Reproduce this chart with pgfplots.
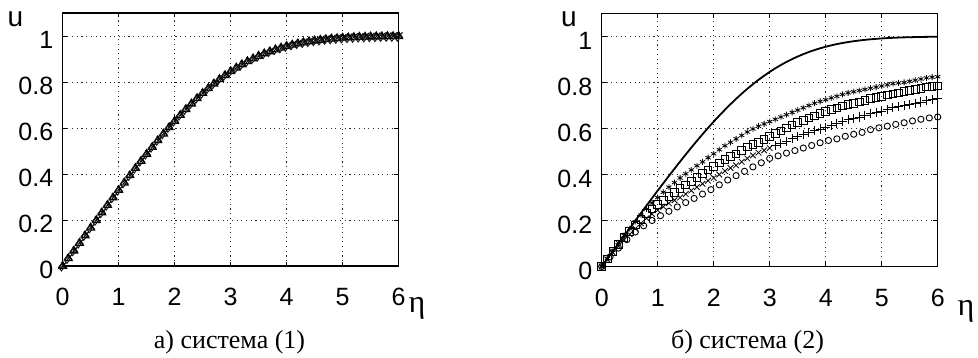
\documentclass[border=0pt]{standalone}
\usepackage{fontspec}
\setmainfont{Liberation Serif}
\newfontfamily\sansf{Liberation Sans}
\usepackage{pgfplots}
\usepackage{pgfplotstable}
\pgfplotsset{compat=1.18}

% left panel / solid line: u(eta)
\pgfplotstableread{
eta u
0.0 0
0.1 0.0332
0.2 0.0664
0.3 0.0996
0.4 0.1328
0.5 0.1659
0.6 0.1989
0.7 0.2319
0.8 0.2647
0.9 0.2974
1.0 0.3298
1.1 0.3619
1.2 0.3938
1.3 0.4252
1.4 0.4563
1.5 0.4868
1.6 0.5168
1.7 0.5461
1.8 0.5748
1.9 0.6027
2.0 0.6298
2.1 0.6560
2.2 0.6813
2.3 0.7056
2.4 0.7290
2.5 0.7513
2.6 0.7725
2.7 0.7925
2.8 0.8115
2.9 0.8293
3.0 0.8461
3.1 0.8617
3.2 0.8761
3.3 0.8895
3.4 0.9018
3.5 0.9130
3.6 0.9233
3.7 0.9326
3.8 0.9411
3.9 0.9487
4.0 0.9555
4.1 0.9616
4.2 0.9670
4.3 0.9717
4.4 0.9759
4.5 0.9795
4.6 0.9827
4.7 0.9854
4.8 0.9878
4.9 0.9898
5.0 0.9916
5.1 0.9930
5.2 0.9943
5.3 0.9953
5.4 0.9962
5.5 0.9969
5.6 0.9975
5.7 0.9980
5.8 0.9984
5.9 0.9987
6.0 0.9990
}\blasius

% right panel marker series
\pgfplotstableread{
eta T S P
0.0 0 0 0
0.1 0.035 0.033 0.03
0.2 0.07 0.065 0.06
0.3 0.103 0.095 0.088
0.4 0.135 0.125 0.115
0.5 0.165 0.153 0.14
0.6 0.195 0.18 0.165
0.7 0.223 0.205 0.188
0.8 0.25 0.23 0.21
0.9 0.276 0.25 0.228
1.0 0.30 0.27 0.245
1.1 0.323 0.288 0.26
1.2 0.345 0.305 0.275
1.3 0.365 0.323 0.288
1.4 0.385 0.34 0.30
1.5 0.403 0.355 0.315
1.6 0.42 0.37 0.33
1.7 0.438 0.388 0.345
1.8 0.455 0.405 0.36
1.9 0.473 0.42 0.373
2.0 0.49 0.435 0.385
2.1 0.508 0.45 0.40
2.2 0.525 0.465 0.415
2.3 0.54 0.478 0.428
2.4 0.555 0.49 0.44
2.5 0.57 0.505 0.455
2.6 0.585 0.52 0.47
2.7 0.598 0.53 0.483
2.8 0.61 0.54 0.495
2.9 0.62 0.553 0.505
3.0 0.63 0.565 0.515
3.1 0.64 0.578 0.525
3.2 0.65 0.59 0.535
3.3 0.66 0.603 0.545
3.4 0.67 0.615 0.555
3.5 0.68 0.625 0.565
3.6 0.69 0.635 0.575
3.7 0.70 0.645 0.583
3.8 0.71 0.655 0.59
3.9 0.718 0.665 0.598
4.0 0.725 0.675 0.605
4.1 0.733 0.683 0.613
4.2 0.74 0.69 0.62
4.3 0.748 0.698 0.63
4.4 0.755 0.705 0.64
4.5 0.76 0.71 0.645
4.6 0.765 0.715 0.65
4.7 0.77 0.723 0.658
4.8 0.775 0.73 0.665
4.9 0.78 0.735 0.67
5.0 0.785 0.74 0.675
5.1 0.79 0.745 0.683
5.2 0.795 0.75 0.69
5.3 0.798 0.755 0.695
5.4 0.80 0.76 0.70
5.5 0.805 0.765 0.705
5.6 0.81 0.77 0.71
5.7 0.815 0.775 0.715
5.8 0.82 0.78 0.72
5.9 0.823 0.783 0.725
6.0 0.825 0.785 0.73
}\series

\pgfplotstableread{
eta C
0 0
0.15 0.042
0.3 0.08
0.45 0.117
0.6 0.15
0.75 0.177
0.9 0.20
1.05 0.221
1.2 0.24
1.35 0.259
1.5 0.278
1.65 0.296
1.8 0.315
1.95 0.334
2.1 0.355
2.25 0.376
2.4 0.395
2.55 0.414
2.7 0.433
2.85 0.451
3.0 0.47
3.15 0.481
3.3 0.493
3.45 0.504
3.6 0.515
3.75 0.526
3.9 0.538
4.05 0.548
4.2 0.555
4.35 0.566
4.5 0.575
4.65 0.583
4.8 0.595
4.95 0.603
5.1 0.61
5.25 0.618
5.4 0.625
5.55 0.633
5.7 0.64
5.85 0.646
6.0 0.65
}\seriesC

\pgfplotsset{
  myaxis/.style={
    scale only axis, width=336pt, height=253pt,
    xmin=0, xmax=6, ymin=0, ymax=1.1,
    xtick={0,1,2,3,4,5,6},
    ytick={0,0.2,0.4,0.6,0.8,1},
    yticklabels={0,0.2,0.4,0.6,0.8,1},
    grid=major,
    major grid style={black!85, line width=0.9pt, dash pattern=on 1.1pt off 3.6pt},
    axis line style={line width=1.4pt},
    tick style={black, line width=0.8pt},
    ticklabel style={font=\sansf\fontsize{25}{25}\selectfont},
    /pgf/number format/assume math mode=true,
    xticklabel style={yshift=-19pt},
    yticklabel style={xshift=-6pt, yshift=-4pt},
    clip=false,
  }
}

\begin{document}
\begin{tikzpicture}
\path[use as bounding box] (0,0) rectangle (978pt,358pt);

\begin{axis}[myaxis, at={(62.7pt,92pt)}, anchor=south west]
  \addplot[only marks, mark=triangle, mark size=4.3pt, black, line width=1.3pt] table[x=eta,y=u]{\blasius};
  \addplot[only marks, mark=x, mark size=3.6pt, black, line width=1.1pt, xshift=1.3pt, yshift=1.3pt] table[x=eta,y=u]{\blasius};
  \addplot[only marks, mark=diamond, mark size=3.6pt, black!90, line width=1pt, xshift=-1.3pt, yshift=-1.3pt] table[x=eta,y=u]{\blasius};
\end{axis}

\begin{axis}[myaxis, at={(601.7pt,91.5pt)}, anchor=south west]
  \addplot[black, line width=1.8pt, no marks] table[x=eta,y=u]{\blasius};
  \addplot[only marks, mark=asterisk, mark size=3pt, black, line width=0.8pt] table[x=eta,y=T]{\series};
  \addplot[only marks, mark=square, mark size=3.8pt, black, line width=0.9pt] table[x=eta,y=S]{\series};
  \addplot[only marks, mark=x, mark size=4pt, black, line width=0.8pt, restrict x to domain=0:3] table[x=eta,y=P]{\series};
  \addplot[only marks, mark=+, mark size=4.6pt, black, line width=0.9pt, restrict x to domain=3.05:6] table[x=eta,y=P]{\series};
  \addplot[only marks, mark=o, mark size=3.1pt, black, line width=0.9pt] table[x=eta,y=C]{\seriesC};
\end{axis}

\node[inner sep=0pt, font=\sansf\fontsize{28}{28}\selectfont] at (15.5pt,339pt) {u};
\node[inner sep=0pt, font=\sansf\fontsize{28}{28}\selectfont] at (569pt,339pt) {u};
\node[inner sep=0pt, font=\fontsize{32}{32}\selectfont] at (417pt,50pt) {η};
\node[inner sep=0pt, font=\fontsize{32}{32}\selectfont] at (966pt,47pt) {η};
\node[inner sep=0pt, font=\fontsize{26}{26}\selectfont] at (229.5pt,16pt) {а) система (1)};
\node[inner sep=0pt, font=\fontsize{26}{26}\selectfont] at (747.5pt,16pt) {б) система (2)};
\end{tikzpicture}
\end{document}
